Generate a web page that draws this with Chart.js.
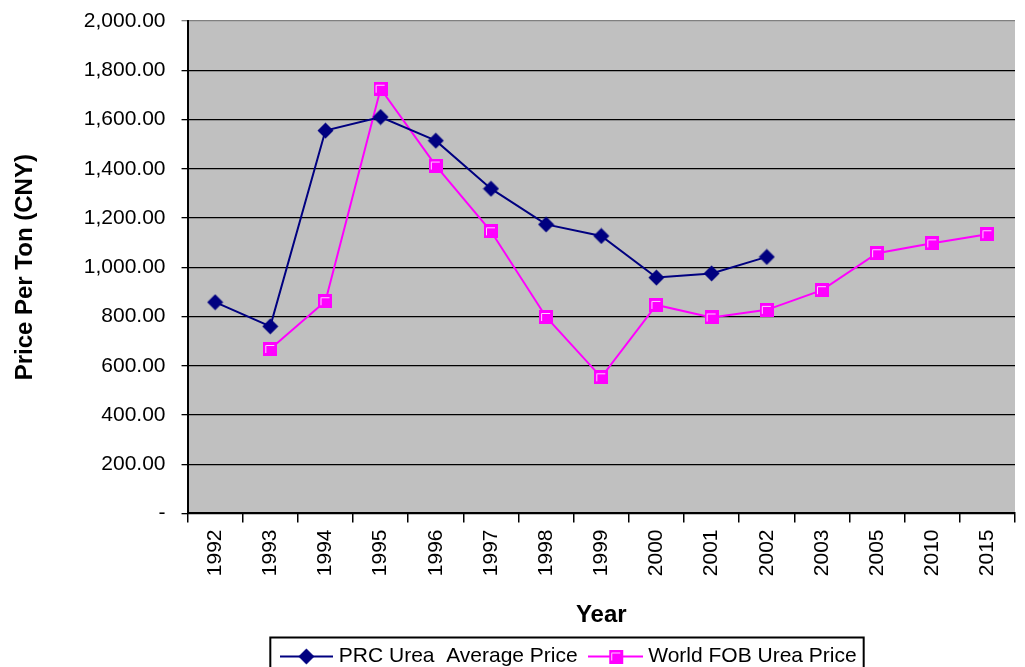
<!DOCTYPE html>
<html>
<head>
<meta charset="utf-8">
<script src="https://cdn.jsdelivr.net/npm/chart.js@4/dist/chart.umd.min.js"></script>
<style>
  html, body { margin: 0; padding: 0; background: #fff; overflow: hidden; }
  #wrap { width: 1025px; height: 677px; }
</style>
</head>
<body>
<div id="wrap"><canvas id="ureaChart" width="1025" height="677"></canvas></div>
<script>
const years = ["1992", "1993", "1994", "1995", "1996", "1997", "1998", "1999", "2000", "2001", "2002", "2003", "2005", "2010", "2015"];
const prcPrice = [858, 760, 1555, 1610, 1514, 1319, 1174, 1127, 958, 975, 1042, null, null, null, null];
const worldPrice = [null, 668, 862, 1725, 1413, 1146, 798, 553, 847, 796, 827, 907, 1057, 1097, 1134];
const yTicks = [0, 200, 400, 600, 800, 1000, 1200, 1400, 1600, 1800, 2000];

const navy = '#000080';
const magenta = '#ff00ff';
const fontFamily = '"Liberation Sans", Arial, sans-serif';

// marker images (Excel style)
function diamondImg(withLine, w) {
  const c = document.createElement('canvas');
  c.width = w; c.height = 17;
  const g = c.getContext('2d');
  const cx = w / 2, cy = 8.5;
  if (withLine) {
    g.strokeStyle = navy; g.lineWidth = 2;
    g.beginPath(); g.moveTo(0, cy); g.lineTo(w, cy); g.stroke();
  }
  g.fillStyle = navy;
  g.beginPath();
  g.moveTo(cx, cy - 8); g.lineTo(cx + 8, cy); g.lineTo(cx, cy + 8); g.lineTo(cx - 8, cy);
  g.closePath(); g.fill();
  return c;
}
function squareImg(withLine, w) {
  const c = document.createElement('canvas');
  c.width = w; c.height = 14;
  const g = c.getContext('2d');
  const cx = Math.round(w / 2);
  if (withLine) {
    g.strokeStyle = magenta; g.lineWidth = 2;
    g.beginPath(); g.moveTo(0, 7); g.lineTo(w, 7); g.stroke();
  }
  g.fillStyle = magenta;
  g.fillRect(cx - 7, 0, 14, 14);
  g.strokeStyle = '#ffd0ff'; g.lineWidth = 1;
  g.beginPath(); g.moveTo(cx - 4.5, 11); g.lineTo(cx - 4.5, 3.5); g.lineTo(cx + 4, 3.5); g.stroke();
  return c;
}
const diamondPt = diamondImg(false, 17);
const squarePt = squareImg(false, 14);
const diamondLegend = diamondImg(true, 53);
const squareLegend = squareImg(true, 55);

function fmt(v) {
  if (v === 0) return '-';
  const s = v.toFixed(2).split('.');
  return s[0].replace(/\B(?=(\d{3})+(?!\d))/g, ',') + '.' + s[1];
}

const legendShift = 58;

const plotBg = {
  id: 'plotBg',
  afterLayout(chart) {
    const lg = chart.legend;
    if (!lg) return;
    lg.left += legendShift;
    lg.right += legendShift;
  },
  beforeDraw(chart) {
    const a = chart.chartArea, ctx = chart.ctx;
    ctx.save();
    ctx.fillStyle = '#c0c0c0';
    ctx.fillRect(a.left, a.top, a.right - a.left, a.bottom - a.top);
    ctx.restore();
  },
  afterDraw(chart) {
    // border box round the legend row
    const lg = chart.legend, ctx = chart.ctx;
    if (!lg || !lg.lineWidths) return;
    const pad = lg.options.labels.padding;
    const lw = lg.lineWidths[0];
    const rowStart = (lg.left + pad + lg.right - lw) / 2;
    const left = rowStart - 14;
    const right = rowStart + lw - pad + 7;
    const top = lg.top + pad + 10.5 - 19;
    ctx.save();
    ctx.strokeStyle = '#000'; ctx.lineWidth = 2;
    ctx.strokeRect(left, top, right - left, 60);
    ctx.restore();
  }
};

new Chart(document.getElementById('ureaChart'), {
  type: 'line',
  data: {
    labels: years,
    datasets: [{
      label: 'PRC Urea  Average Price',
      data: prcPrice,
      borderColor: navy,
      backgroundColor: navy,
      borderWidth: 2,
      pointStyle: diamondPt,
      pointRadius: 8,
      tension: 0,
      spanGaps: false
    }, {
      label: 'World FOB Urea Price',
      data: worldPrice,
      borderColor: magenta,
      backgroundColor: magenta,
      borderWidth: 2,
      pointStyle: squarePt,
      pointRadius: 7,
      tension: 0,
      spanGaps: false
    }]
  },
  options: {
    responsive: false,
    animation: false,
    events: [],
    layout: { padding: { top: 21, right: 0, left: 0, bottom: 0 } },
    scales: {
      x: {
        offset: true,
        border: { color: '#000', width: 2 },
        grid: { offset: true, drawOnChartArea: false, color: '#000', lineWidth: 1.5, tickLength: 9 },
        ticks: { color: '#000', font: { family: fontFamily, size: 21 }, minRotation: 90, maxRotation: 90, padding: 7, autoSkip: false },
        title: { display: true, text: 'Year', color: '#000', font: { family: fontFamily, size: 24, weight: 'bold' }, padding: { top: 18, bottom: 0 } }
      },
      y: {
        min: 0,
        max: 2000,
        afterBuildTicks: axis => { axis.ticks = yTicks.map(v => ({ value: v })); },
        afterFit: axis => { axis.paddingTop = 0; axis.paddingBottom = 0; },
        border: { color: '#000', width: 2 },
        grid: {
          color: c => (c.tick && c.tick.value === 2000 ? '#808080' : '#000'),
          lineWidth: 1.3,
          tickLength: 6
        },
        ticks: { color: '#000', font: { family: fontFamily, size: 21 }, padding: 16, callback: v => fmt(v) },
        title: { display: true, text: 'Price Per Ton (CNY)', color: '#000', font: { family: fontFamily, size: 24, weight: 'bold' }, padding: { top: 11, bottom: 28 } }
      }
    },
    plugins: {
      legend: {
        position: 'bottom',
        labels: {
          color: '#000',
          font: { family: fontFamily, size: 21 },
          usePointStyle: true,
          pointStyleWidth: 44,
          padding: 16,
          generateLabels: chart => Chart.defaults.plugins.legend.labels.generateLabels(chart).map((item, i) => {
            item.pointStyle = i === 0 ? diamondLegend : squareLegend;
            return item;
          })
        }
      },
      tooltip: { enabled: false }
    }
  },
  plugins: [plotBg]
});
</script>
</body>
</html>
